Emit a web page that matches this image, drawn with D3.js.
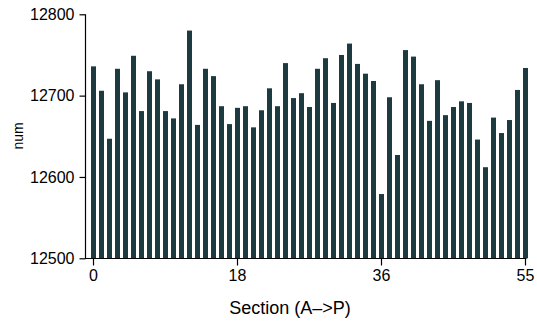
<!DOCTYPE html>
<html>
<head>
<meta charset="utf-8">
<script src="https://cdn.jsdelivr.net/npm/d3@7/dist/d3.min.js"></script>
<style>
  html, body { margin: 0; padding: 0; background: #fff; }
  svg { display: block; }
  text { font-family: "Liberation Sans", Arial, Helvetica, sans-serif; fill: #000; }
</style>
</head>
<body>
<svg id="chart" width="537" height="324"></svg>
<script>
// Section index of each bar
const sections = d3.range(0, 55);
// Measured value per section
const values = [
  12736, 12706, 12647, 12733, 12704, 12749, 12681, 12730, 12720, 12681,
  12672, 12714, 12780, 12664, 12733, 12724, 12687, 12665, 12685, 12687,
  12661, 12682, 12709, 12687, 12740, 12697, 12703, 12686, 12733, 12746,
  12691, 12750, 12764, 12739, 12727, 12718, 12579, 12698, 12627, 12756,
  12748, 12714, 12669, 12719, 12676, 12686, 12693, 12691, 12646, 12612,
  12673, 12654, 12670, 12707, 12734
];
// Axis ticks
const yTicks = [12500, 12600, 12700, 12800];
const xTickSections = [0, 18, 36, 54];
const xTickLabels = ["0", "18", "36", "55"];

const barColor = "#1c3a40";

const svg = d3.select("#chart");
const axisLeftX = 85.5;
const axisBottomY = 258.5;

const y = d3.scaleLinear().domain([12500, 12800]).range([258.3, 14.3]);
const x = d3.scaleBand().domain(sections).range([91, 528]).paddingInner(0.375).paddingOuter(0);

// bars
svg.append("g")
  .selectAll("rect")
  .data(sections)
  .join("rect")
  .attr("x", d => x(d))
  .attr("width", x.bandwidth())
  .attr("y", d => y(values[d]))
  .attr("height", d => y(12500) - y(values[d]))
  .attr("fill", barColor);

// y axis
const gy = svg.append("g")
  .attr("transform", `translate(${axisLeftX},0)`)
  .call(d3.axisLeft(y).tickValues(yTicks).tickFormat(d3.format("d")).tickSize(6).tickSizeOuter(0).tickPadding(5));
gy.selectAll("text").style("font-size", "16px");
gy.select(".domain").attr("d", `M0,${y(12800)}V${axisBottomY + 0.5}`);

// x axis
const gx = svg.append("g")
  .attr("transform", `translate(0,${axisBottomY})`)
  .call(d3.axisBottom(x).tickValues(xTickSections)
    .tickFormat((d, i) => xTickLabels[i]).tickSize(7).tickSizeOuter(0).tickPadding(4));
gx.selectAll("text").style("font-size", "16px");
gx.select(".domain").attr("d", `M${axisLeftX - 0.5},0H${x(54) + x.bandwidth() / 2 + 1}`);
svg.selectAll(".domain, .tick line").attr("stroke", "#000").attr("stroke-width", 1.2);

// axis titles
svg.append("text")
  .attr("x", 290)
  .attr("y", 314)
  .attr("text-anchor", "middle")
  .style("font-size", "18px")
  .text("Section (A\u2013>P)");

svg.append("text")
  .attr("transform", `translate(23,136) rotate(-90)`)
  .attr("text-anchor", "middle")
  .style("font-size", "14px")
  .text("num");
</script>
</body>
</html>
